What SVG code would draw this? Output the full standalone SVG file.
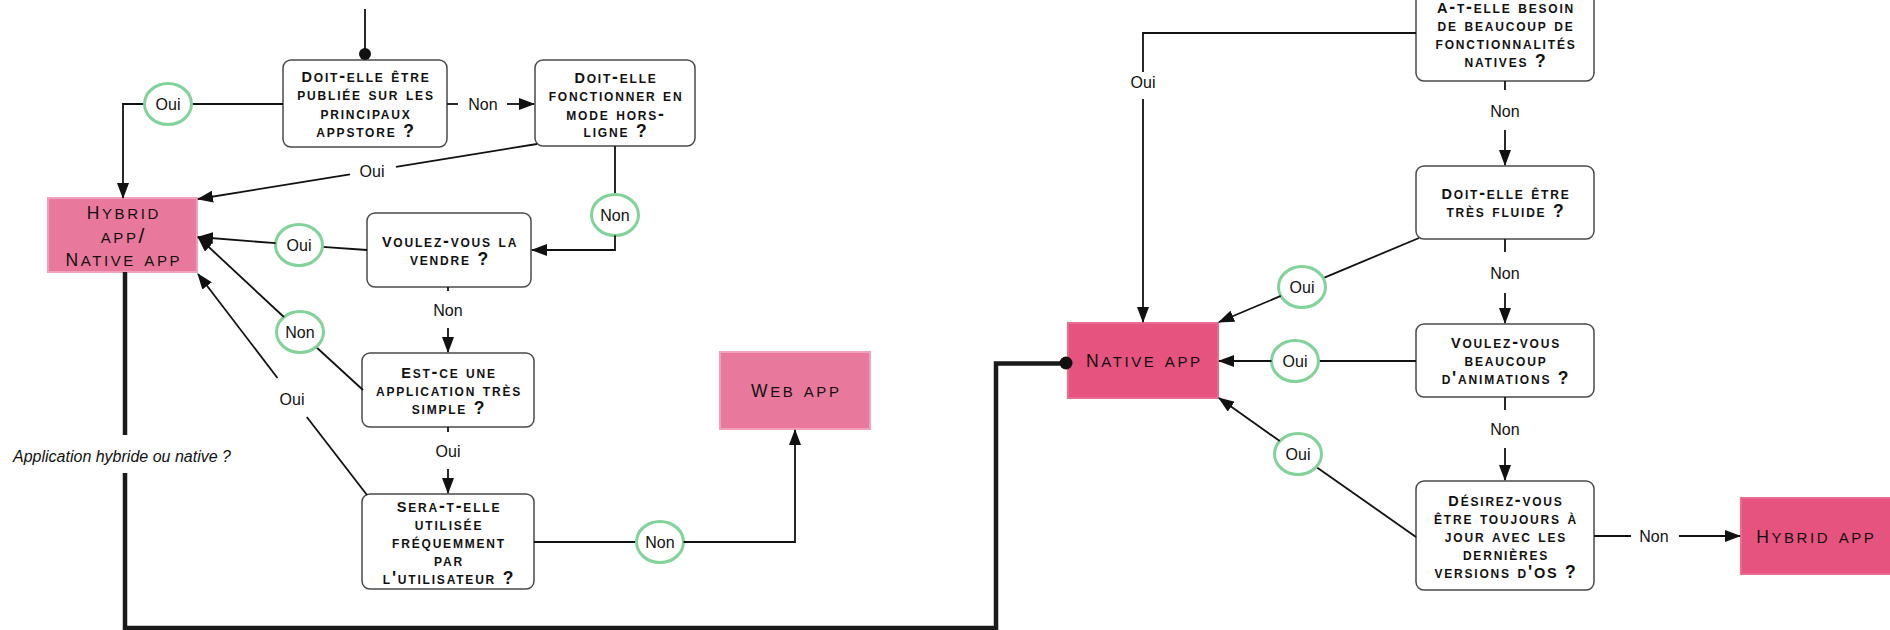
<svg xmlns="http://www.w3.org/2000/svg" width="1890" height="630" viewBox="0 0 1890 630">
  <defs>
    <marker id="arrow" viewBox="0 0 16 12" refX="15" refY="6" markerWidth="16" markerHeight="12" markerUnits="userSpaceOnUse" orient="auto">
      <path d="M0,0 L16,6 L0,12 Z" fill="#111"/>
    </marker>
  </defs>
  <style>
    .q rect { fill: #fff; stroke: #4a4a4a; stroke-width: 1.5; }
    .q text { font-family: "Liberation Sans", Arial, sans-serif; font-weight: bold; font-size: 17.5px; font-variant: small-caps; letter-spacing: 1.8px; fill: #111; text-anchor: middle; }
    .q .cap { font-size: 14.5px; }
    .t text { font-family: "Liberation Sans", Arial, sans-serif; font-size: 21px; font-variant: small-caps; letter-spacing: 2.6px; fill: #111; text-anchor: middle; }
    .t .cap { font-size: 17.5px; }
    .light rect { fill: #e9799c; stroke: #f0a2ba; stroke-width: 2; }
    .dark rect { fill: #e7537f; stroke: #eb6a91; stroke-width: 2; }
    .edge { fill: none; stroke: #111; stroke-width: 1.8; }
    .arr { marker-end: url(#arrow); }
    .bus { fill: none; stroke: #1a1a1a; stroke-width: 4.5; }
    .ring { fill: #fff; stroke: #82d39a; stroke-width: 3; }
    .lbl { font-family: "Liberation Sans", Arial, sans-serif; font-size: 16px; fill: #111; text-anchor: middle; }
    .note { font-family: "Liberation Sans", Arial, sans-serif; font-size: 16px; font-style: italic; fill: #111; }
  </style>

  <!-- question nodes -->
  <g id="q-appstore" class="q">
    <rect x="283" y="60" width="164" height="87" rx="8"/>
    <text x="366" y="81.5"><tspan class="cap">D</tspan>oit-elle être</text>
    <text x="366" y="100">publiée sur les</text>
    <text x="366" y="118.5">principaux</text>
    <text x="366" y="136.5">appstore ?</text>
  </g>
  <g id="q-offline" class="q">
    <rect x="535" y="60" width="160" height="86" rx="8"/>
    <text x="616" y="82.5"><tspan class="cap">D</tspan>oit-elle</text>
    <text x="616" y="101">fonctionner en</text>
    <text x="616" y="119.5">mode hors-</text>
    <text x="616" y="136.5">ligne ?</text>
  </g>
  <g id="q-sell" class="q">
    <rect x="367" y="213" width="164" height="74" rx="8"/>
    <text x="450" y="246.5"><tspan class="cap">V</tspan>oulez-vous la</text>
    <text x="450" y="264.5">vendre ?</text>
  </g>
  <g id="q-simple" class="q">
    <rect x="362" y="353" width="172" height="74" rx="8"/>
    <text x="449" y="377.5"><tspan class="cap">E</tspan>st-ce une</text>
    <text x="449" y="395.5">application très</text>
    <text x="449" y="413.5">simple ?</text>
  </g>
  <g id="q-frequent" class="q">
    <rect x="362" y="494" width="172" height="95" rx="8"/>
    <text x="449" y="511.5"><tspan class="cap">S</tspan>era-t-elle</text>
    <text x="449" y="529.5">utilisée</text>
    <text x="449" y="547.5">fréquemment</text>
    <text x="449" y="565.5">par</text>
    <text x="449" y="583.5">l'utilisateur ?</text>
  </g>
  <g id="q-native-features" class="q">
    <rect x="1416" y="-10" width="178" height="91" rx="8"/>
    <text x="1506" y="13"><tspan class="cap">A</tspan>-t-elle besoin</text>
    <text x="1506" y="31">de beaucoup de</text>
    <text x="1506" y="49">fonctionnalités</text>
    <text x="1506" y="67">natives ?</text>
  </g>
  <g id="q-fluid" class="q">
    <rect x="1416" y="166" width="178" height="73" rx="8"/>
    <text x="1506" y="198.5"><tspan class="cap">D</tspan>oit-elle être</text>
    <text x="1506" y="216.5">très fluide ?</text>
  </g>
  <g id="q-animations" class="q">
    <rect x="1416" y="324" width="178" height="73" rx="8"/>
    <text x="1506" y="347.5"><tspan class="cap">V</tspan>oulez-vous</text>
    <text x="1506" y="365.5">beaucoup</text>
    <text x="1506" y="383.5">d'animations ?</text>
  </g>
  <g id="q-os-updates" class="q">
    <rect x="1416" y="481" width="178" height="109" rx="8"/>
    <text x="1506" y="505.5"><tspan class="cap">D</tspan>ésirez-vous</text>
    <text x="1506" y="523.5">être toujours à</text>
    <text x="1506" y="541.5">jour avec les</text>
    <text x="1506" y="559.5">dernières</text>
    <text x="1506" y="577.5">versions d'<tspan class="cap">OS</tspan> ?</text>
  </g>

  <!-- outcome nodes -->
  <g id="t-hybrid-native" class="t light">
    <rect x="48" y="198" width="149" height="74"/>
    <text x="123.8" y="218.5"><tspan class="cap">H</tspan>ybrid</text>
    <text x="123.8" y="242.5">app/</text>
    <text x="123.8" y="265.5"><tspan class="cap">N</tspan>ative app</text>
  </g>
  <g id="t-web" class="t light">
    <rect x="720" y="352" width="150" height="77"/>
    <text x="796.3" y="396.5"><tspan class="cap">W</tspan>eb app</text>
  </g>
  <g id="t-native" class="t dark">
    <rect x="1068" y="323" width="150" height="75"/>
    <text x="1144.3" y="366.5"><tspan class="cap">N</tspan>ative app</text>
  </g>
  <g id="t-hybrid" class="t dark">
    <rect x="1741" y="498" width="152" height="76"/>
    <text x="1816.3" y="542.5"><tspan class="cap">H</tspan>ybrid app</text>
  </g>

  <!-- connectors -->
  <g id="connectors">
    <path class="edge" d="M365,9 V54"/>
    <circle cx="365" cy="54" r="6" fill="#111"/>

    <path class="edge" d="M283,104 H191.5"/>
    <path class="edge arr" d="M144.5,104 H123 V198"/>
    <ellipse class="ring" cx="168" cy="104" rx="23.5" ry="20.5"/>
    <text class="lbl" x="168" y="109.7">Oui</text>

    <path class="edge" d="M447,104 H458"/>
    <text class="lbl" x="483" y="109.7">Non</text>
    <path class="edge arr" d="M507,104 H534"/>

    <path class="edge" d="M537,144 L396,166.9"/>
    <text class="lbl" x="372" y="176.7">Oui</text>
    <path class="edge arr" d="M350,174.3 L198,199"/>

    <path class="edge" d="M615,146 V194.5"/>
    <ellipse class="ring" cx="615" cy="215" rx="23.5" ry="20.5"/>
    <text class="lbl" x="615" y="220.7">Non</text>
    <path class="edge arr" d="M615,235.5 V250 H532"/>

    <path class="edge" d="M367,250 L322.4,246.8"/>
    <ellipse class="ring" cx="299" cy="245" rx="23.5" ry="20.5"/>
    <text class="lbl" x="299" y="250.7">Oui</text>
    <path class="edge arr" d="M275.6,243.2 L198,237"/>

    <path class="edge" d="M448,287 V291"/>
    <text class="lbl" x="448" y="315.7">Non</text>
    <path class="edge arr" d="M448,328 V352"/>

    <path class="edge" d="M363,390 L316.1,347"/>
    <ellipse class="ring" cx="300" cy="332" rx="23.5" ry="20.5"/>
    <text class="lbl" x="300" y="337.7">Non</text>
    <path class="edge arr" d="M283.9,317 L198,237"/>

    <path class="edge" d="M448,427 V432"/>
    <text class="lbl" x="448" y="456.7">Oui</text>
    <path class="edge arr" d="M448,469 V493"/>

    <path class="edge" d="M367,495 L306.8,417"/>
    <text class="lbl" x="292" y="404.7">Oui</text>
    <path class="edge arr" d="M277.5,378 L198,274"/>

    <path class="edge" d="M534,542 H636.5"/>
    <ellipse class="ring" cx="660" cy="542" rx="23.5" ry="20.5"/>
    <text class="lbl" x="660" y="547.7">Non</text>
    <path class="edge arr" d="M683.5,542 H795 V430"/>

    <!-- link from the left outcome to the native/hybrid sub-chart -->
    <path class="bus" d="M125,272 V435"/>
    <text class="note" x="13" y="461.5">Application hybride ou native ?</text>
    <path class="bus" d="M125,473 V628 H996 V363.5 H1062"/>
    <circle cx="1066" cy="363" r="6.5" fill="#111"/>

    <path class="edge" d="M1416,33 H1143 V72"/>
    <text class="lbl" x="1143" y="87.7">Oui</text>
    <path class="edge arr" d="M1143,99 V322"/>

    <path class="edge" d="M1505,81 V90"/>
    <text class="lbl" x="1505" y="116.7">Non</text>
    <path class="edge arr" d="M1505,130 V165"/>

    <path class="edge" d="M1419,238 L1323.2,278.1"/>
    <ellipse class="ring" cx="1302" cy="287" rx="23.5" ry="20.5"/>
    <text class="lbl" x="1302" y="292.7">Oui</text>
    <path class="edge arr" d="M1280.8,295.9 L1219,322"/>

    <path class="edge" d="M1505,239 V252"/>
    <text class="lbl" x="1505" y="278.7">Non</text>
    <path class="edge arr" d="M1505,293 V323"/>

    <path class="edge" d="M1416,361 H1318.5"/>
    <ellipse class="ring" cx="1295" cy="361" rx="23.5" ry="20.5"/>
    <text class="lbl" x="1295" y="366.7">Oui</text>
    <path class="edge arr" d="M1271.5,361 H1219"/>

    <path class="edge" d="M1505,397 V410"/>
    <text class="lbl" x="1505" y="434.7">Non</text>
    <path class="edge arr" d="M1505,448 V480"/>

    <path class="edge" d="M1416,537 L1316.3,466.9"/>
    <ellipse class="ring" cx="1298" cy="454" rx="23.5" ry="20.5"/>
    <text class="lbl" x="1298" y="459.7">Oui</text>
    <path class="edge arr" d="M1279.7,441.1 L1219,398"/>

    <path class="edge" d="M1594,536 H1631"/>
    <text class="lbl" x="1654" y="541.7">Non</text>
    <path class="edge arr" d="M1679,536 H1740"/>
  </g>
</svg>
